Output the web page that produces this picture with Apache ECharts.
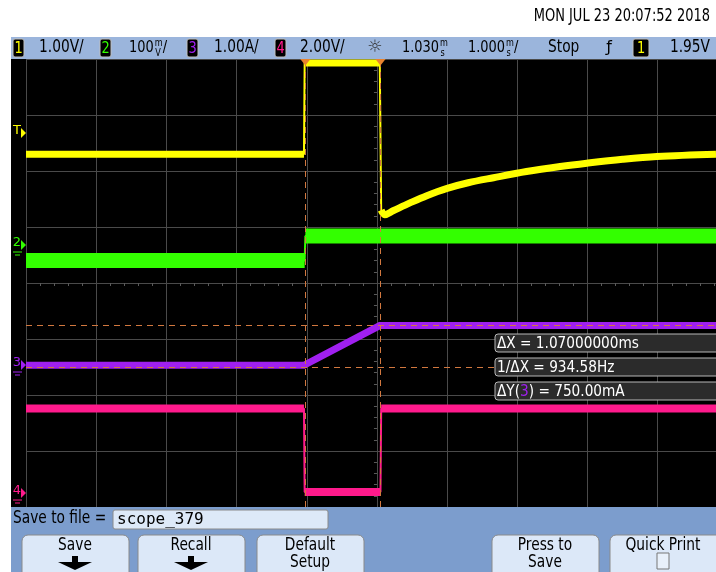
<!DOCTYPE html>
<html>
<head>
<meta charset="utf-8">
<script src="https://cdn.jsdelivr.net/npm/echarts@6/dist/echarts.min.js"></script>
<style>
  html, body { margin: 0; padding: 0; background: #fff; overflow: hidden; }
  #chart { width: 716px; height: 572px; }
</style>
</head>
<body>
<div id="chart"></div>
<script>
// all trace values are in screen divisions, measured from the graticule centre
// x: 1 div = 1.000 ms, y: per channel scale (see chanScales)
var ch1Time  = [-5, -1.04, -1.03, 0.04, 0.06, 0.11, 0.23, 0.47, 0.71, 1.0, 1.3, 1.66, 2.13, 2.61, 2.99, 3.5, 3.99, 4.83];
var ch1Level = [2.30, 2.30, 3.93, 3.93, 1.30, 1.22, 1.29, 1.43, 1.56, 1.69, 1.79, 1.88, 1.99, 2.08, 2.14, 2.21, 2.26, 2.30];

var ch2Time  = [-5, -1.03, -1.02, 4.83];
var ch2Level = [0.40, 0.40, 0.84, 0.84];

var ch3Time  = [-5, -1.04, 0.04, 4.83];
var ch3Level = [-1.47, -1.47, -0.76, -0.76];

var ch4Time  = [-5, -1.04, -1.03, 0.05, 0.06, 4.83];
var ch4Level = [-2.24, -2.24, -3.73, -3.73, -2.24, -2.24];

var cursorX = [-1.02, 0.05];   // divisions (ms)
var cursorY = [-0.76, -1.51];  // divisions of channel 3 (1 A/div)

var chanNames  = ['1', '2', '3', '4'];
var chanColors = ['#ffff00', '#33ff00', '#a020f0', '#ff1a8c'];
var chanScales = ['1.00V/', '100', '1.00A/', '2.00V/'];
var dateText = 'MON JUL 23 20:07:52 2018';

var NARROW = '"Liberation Sans Narrow","DejaVu Sans Condensed",sans-serif';
var SQUEEZE = 0.9;
var CURSOR = '#d2783f';

var measureCtx = document.createElement('canvas').getContext('2d');
function textWidth(s, size) {
    measureCtx.font = size + 'px ' + NARROW;
    return measureCtx.measureText(s).width * SQUEEZE;
}

function pairs(xs, ys) {
    var out = [];
    for (var i = 0; i < xs.length; i++) out.push([xs[i], ys[i]]);
    return out;
}

// thick noise band, broken on the steep edges (those get a thin line)
function band(xs, ys) {
    var out = [];
    for (var i = 0; i < xs.length; i++) {
        if (i > 0) {
            var dx = xs[i] - xs[i - 1], dy = ys[i] - ys[i - 1];
            if (Math.abs(dy) > 10 * Math.abs(dx)) out.push([(xs[i] + xs[i - 1]) / 2, null]);
        }
        out.push([xs[i], ys[i]]);
    }
    return out;
}

function txt(x, y, s, size, color, align, font, squeeze) {
    return {
        type: 'text', x: x, y: y, silent: true, z: 20,
        scaleX: font ? 1 : (squeeze || SQUEEZE),
        style: {
            text: s, fill: color || '#000',
            font: (size || 15) + 'px ' + (font || NARROW),
            textAlign: align || 'left', textVerticalAlign: 'middle'
        }
    };
}

// value followed by a two-letter unit stacked small, as the scope draws it
function stacked(x, y, value, top, bottom, tail) {
    var w = textWidth(value, 16);
    var out = [txt(x, y, value, 16), txt(x + w + 1, y - 5, top, 10), txt(x + w + 1.5, y + 5, bottom, 10)];
    if (tail) out.push(txt(x + w + 9, y, tail, 16));
    return out;
}

function box(x, y, w, h, fill, stroke, r) {
    return {
        type: 'rect', silent: true, z: 10,
        shape: { x: x, y: y, width: w, height: h, r: r || 0 },
        style: { fill: fill, stroke: stroke || null, lineWidth: 1 }
    };
}

var traces = [
    [ch1Time, ch1Level, 7, 0.35],
    [ch2Time, ch2Level, 15, 0],
    [ch3Time, ch3Level, 7, 0],
    [ch4Time, ch4Level, 8, 0]
];

var series = [];
traces.forEach(function (t, i) {
    series.push({
        type: 'line', name: 'ch' + chanNames[i] + ' band', data: band(t[0], t[1]),
        showSymbol: false, silent: true, z: 2, animation: false, smooth: t[3],
        lineStyle: { color: chanColors[i], width: t[2], cap: 'butt', join: 'miter' }
    });
    series.push({
        type: 'line', name: 'ch' + chanNames[i], data: pairs(t[0], t[1]),
        showSymbol: false, silent: true, z: 2, animation: false,
        lineStyle: { color: chanColors[i], width: 2 }
    });
});

series.push({
    type: 'line', name: 'cursors', data: [], silent: true, z: 5, animation: false,
    markLine: {
        silent: true, symbol: 'none', animation: false,
        label: { show: false },
        lineStyle: { color: CURSOR, type: [6, 5], width: 1 },
        data: cursorX.map(function (v) { return { xAxis: v }; })
            .concat(cursorY.map(function (v) { return { yAxis: v }; }))
    },
    markPoint: {
        silent: true, animation: false,
        symbol: 'triangle', symbolRotate: 180, symbolSize: [11, 7], symbolOffset: [0, 3],
        itemStyle: { color: '#e8832e' },
        label: { show: false },
        data: cursorX.map(function (v) { return { coord: [v, 4] }; })
    }
});

// readouts derived from the cursors
var dX = cursorX[1] - cursorX[0];
var dY = cursorY[0] - cursorY[1];
var readouts = [
    '\u0394X = ' + dX.toFixed(8) + 'ms',
    '1/\u0394X = ' + (1000 / dX).toFixed(2) + 'Hz',
    '\u0394Y({p|3}) = ' + (dY * 1000).toFixed(2) + 'mA'
];

var g = [];
// screen frame
g.push(box(11, 37, 705, 22, '#9bb5dc'));
g.push(box(11, 59, 15, 448, '#000'));
g.push(box(11, 507, 705, 65, '#7c9dcd'));
g.push(txt(710, 17, dateText, 17, '#000', 'right', null, 0.85));

// status line
var boxX = [13, 100, 187, 275], scaleX = [39, 129, 214, 300];
for (var i = 0; i < 4; i++) {
    g.push(box(boxX[i], 39, 11, 18, '#000', '#c0c0c0', 2));
    g.push(txt(boxX[i] + 5.5, 48.5, chanNames[i], 16, chanColors[i], 'center'));
    if (i === 1) g = g.concat(stacked(scaleX[i], 48, chanScales[i], 'm', 'V', '/'));
    else g.push(txt(scaleX[i], 48, chanScales[i], 17));
}
g.push(txt(375, 48, '\u263C', 17, '#333', 'center', 'DejaVu Sans'));
g = g.concat(stacked(402, 48, '1.030', 'm', 's'));
g = g.concat(stacked(468, 48, '1.000', 'm', 's', '/'));
g.push(txt(548, 48, 'Stop', 17));
g.push(txt(609, 48, '\u0192', 16, '#000', 'center', 'DejaVu Sans'));
g.push(box(633, 39, 16, 18, '#000', '#c0c0c0', 2));
g.push(txt(641, 48.5, '1', 16, chanColors[0], 'center'));
g.push(txt(710, 48, '1.95V', 17, '#000', 'right'));

// channel ground / trigger markers at the left edge
var markY = [133, 245, 365, 493], markLbl = ['T', '2', '3', '4'];
for (var k = 0; k < 4; k++) {
    var mc = chanColors[k];
    g.push(txt(17, markY[k] - 2, markLbl[k], 13, mc, 'center', 'DejaVu Sans'));
    g.push({
        type: 'polygon', silent: true, z: 20,
        shape: { points: [[21, markY[k] - 5], [26, markY[k]], [21, markY[k] + 5]] },
        style: { fill: mc }
    });
    if (k > 0) {
        g.push({
            type: 'polyline', silent: true, z: 20,
            shape: { points: [[13, markY[k] + 7], [22, markY[k] + 7]] },
            style: { stroke: mc, lineWidth: 1 }
        });
        g.push({
            type: 'polyline', silent: true, z: 20,
            shape: { points: [[15, markY[k] + 10], [20, markY[k] + 10]] },
            style: { stroke: mc, lineWidth: 1 }
        });
    }
}

// cursor readout boxes
var rowY = [334, 358, 382];
for (var r = 0; r < 3; r++) {
    g.push(box(495, rowY[r], 228, 18, '#2b2b2b', '#b8b8b8', 3));
    g.push({
        type: 'text', x: 497, y: rowY[r] + 9.5, silent: true, z: 20, scaleX: 0.95,
        style: {
            text: readouts[r], fill: '#fff', font: '16px ' + NARROW,
            textVerticalAlign: 'middle',
            rich: { p: { fill: chanColors[2], font: '16px ' + NARROW } }
        }
    });
}

// soft key area
g.push(txt(13, 519, 'Save to file =', 17));
g.push(box(113, 510, 215, 19, '#dde9f8', '#8a8a8a', 2));
g.push(txt(117, 520, 'scope_379', 16, '#000', 'left', '"DejaVu Sans Mono",monospace'));

var keys = [
    [22, ['Save'], 'arrow'],
    [138, ['Recall'], 'arrow'],
    [257, ['Default', 'Setup']],
    [492, ['Press to', 'Save']],
    [610, ['Quick Print'], 'square']
];
keys.forEach(function (kk) {
    var x0 = kk[0], cx = x0 + 53;
    g.push(box(x0, 535, kk[0] === 610 ? 112 : 107, 42, '#dce8f8', '#8a8a8a', [6, 6, 0, 0]));
    g.push(txt(cx, 546, kk[1][0], 17, '#000', 'center'));
    if (kk[1].length === 2) g.push(txt(cx, 563, kk[1][1], 17, '#000', 'center'));
    if (kk[2] === 'arrow') {
        g.push({
            type: 'polygon', silent: true, z: 20,
            shape: { points: [[cx - 3, 556], [cx + 3, 556], [cx + 3, 562], [cx + 17, 562],
                [cx, 570], [cx - 17, 562], [cx - 3, 562]] },
            style: { fill: '#000' }
        });
    } else if (kk[2] === 'square') {
        g.push(box(cx - 6, 553, 12, 16, '#e8f0fa', '#777', 0));
    }
});

var chart = echarts.init(document.getElementById('chart'), null, { renderer: 'canvas' });
chart.setOption({
    backgroundColor: '#fff',
    animation: false,
    grid: {
        left: 26, top: 59, right: 0, height: 448,
        show: true, backgroundColor: '#000', borderWidth: 0
    },
    xAxis: {
        // the scope screen is cut at the right edge, 4.83 div from centre
        type: 'value', min: -5, max: 4.83, interval: 1,
        axisLine: { show: true, onZero: true, lineStyle: { color: '#4a4a4a' } },
        axisTick: { show: false },
        minorTick: { show: true, splitNumber: 5, length: 3, lineStyle: { color: '#5a5a5a' } },
        axisLabel: { show: false },
        splitLine: { show: true, lineStyle: { color: '#4a4a4a', width: 1 } }
    },
    yAxis: {
        type: 'value', min: -4, max: 4, interval: 1,
        axisLine: { show: true, onZero: true, lineStyle: { color: '#4a4a4a' } },
        axisTick: { show: false },
        minorTick: { show: true, splitNumber: 5, length: 3, lineStyle: { color: '#5a5a5a' } },
        axisLabel: { show: false },
        splitLine: { show: true, lineStyle: { color: '#4a4a4a', width: 1 } }
    },
    series: series,
    graphic: g
});
</script>
</body>
</html>
